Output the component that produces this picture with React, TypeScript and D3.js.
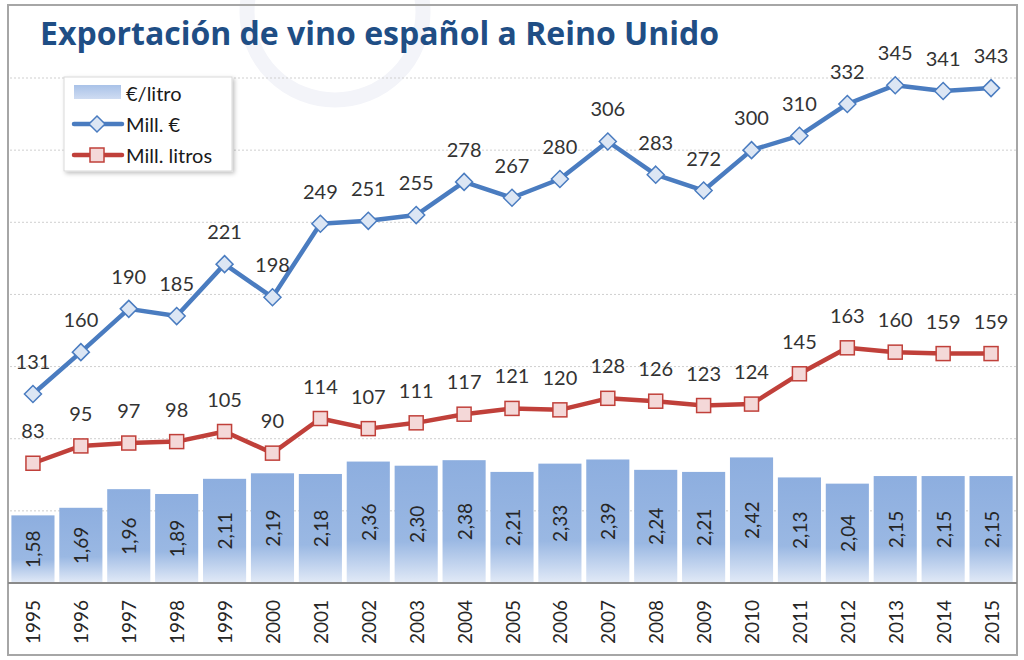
import React from "react";
import * as d3 from "d3";

const years = ["1995","1996","1997","1998","1999","2000","2001","2002","2003","2004","2005","2006","2007","2008","2009","2010","2011","2012","2013","2014","2015"];
const millEuros = [131,160,190,185,221,198,249,251,255,278,267,280,306,283,272,300,310,332,345,341,343];
const millLitros = [83,95,97,98,105,90,114,107,111,117,121,120,128,126,123,124,145,163,160,159,159];
const euroLitro = [1.58,1.69,1.96,1.89,2.11,2.19,2.18,2.36,2.30,2.38,2.21,2.33,2.39,2.24,2.21,2.42,2.13,2.04,2.15,2.15,2.15];
const gridTicks = [50,100,150,200,250,300,350];

const W = 1024, H = 660;
const FONT = "Lato, 'Open Sans', sans-serif";
const BLUE = "#4a7cc0";
const RED = "#c0403a";

export default function App() {
  const x = d3.scaleBand<string>().domain(years).range([9, 1015]).paddingInner(0.1).paddingOuter(0.05);
  const y = d3.scaleLinear().domain([0, 350]).range([583, 78]);
  const yBar = d3.scaleLinear().domain([0.6, 0.6 + 505 / 69]).range([583, 78]);
  const cx = (i: number) => (x(years[i]) as number) + x.bandwidth() / 2;
  const line = d3.line<number>().x((_, i) => cx(i)).y((d) => y(d));

  return (
    <svg width={W} height={H} style={{ position: "absolute", left: 0, top: 0, background: "#fff" }} fontFamily={FONT}>
      <defs>
        <linearGradient id="barGrad" x1="0" y1="0" x2="0" y2="1">
          <stop offset="0%" stopColor="#8daedf" />
          <stop offset="65%" stopColor="#9ab8e3" />
          <stop offset="100%" stopColor="#e2eaf7" />
        </linearGradient>
        <linearGradient id="legGrad" x1="0" y1="0" x2="0" y2="1">
          <stop offset="0%" stopColor="#a9c2e8" />
          <stop offset="100%" stopColor="#cfdcf2" />
        </linearGradient>
        <filter id="shadow" x="-10%" y="-10%" width="130%" height="140%">
          <feDropShadow dx="2" dy="2" stdDeviation="2" floodColor="#000" floodOpacity="0.25" />
        </filter>
      </defs>
      <rect x={0} y={0} width={W} height={H} fill="#fff" />
      {/* watermark ring */}
      <circle cx={335} cy={12} r={88} fill="none" stroke="#f3f4f9" strokeWidth={15} />
      {/* frame */}
      <rect x={8} y={5} width={1009} height={650} fill="none" stroke="#a6a6a6" strokeWidth={2} />

      <text x={40} y={45} fontSize={32} fontWeight={700} fill="#1f4e85" fontFamily="'Open Sans', sans-serif">
        Exportación de vino español a Reino Unido
      </text>

      {/* grid */}
      {gridTicks.map((t) => (
        <line key={t} x1={10} x2={1016} y1={y(t)} y2={y(t)} stroke="#cfcfcf" strokeWidth={1} strokeDasharray="2,2" />
      ))}

      {/* bars */}
      {euroLitro.map((v, i) => (
        <g key={years[i]}>
          <rect x={x(years[i])} y={yBar(v)} width={x.bandwidth()} height={583 - yBar(v)} fill="url(#barGrad)" />
          <text
            transform={`translate(${cx(i)},${(yBar(v) + 583) / 2}) rotate(-90)`}
            textAnchor="middle"
            dominantBaseline="central"
            fontSize={19}
            fill="#262626"
          >
            {v.toFixed(2).replace(".", ",")}
          </text>
        </g>
      ))}

      {/* axis line */}
      <line x1={8} x2={1017} y1={583} y2={583} stroke="#8a8a8a" strokeWidth={2} />
      {years.map((yr, i) => (
        <text
          key={yr}
          transform={`translate(${cx(i)},600) rotate(-90)`}
          textAnchor="end"
          dominantBaseline="central"
          fontSize={19}
          fill="#262626"
        >
          {yr}
        </text>
      ))}

      {/* lines */}
      <path d={line(millLitros) as string} fill="none" stroke={RED} strokeWidth={4.5} strokeLinejoin="round" />
      <path d={line(millEuros) as string} fill="none" stroke={BLUE} strokeWidth={4.5} strokeLinejoin="round" />

      {millLitros.map((v, i) => (
        <g key={"l" + i}>
          <rect x={cx(i) - 7} y={y(v) - 7} width={14} height={14} fill="#f4d8d8" stroke={RED} strokeWidth={1.5} />
          <text x={cx(i)} y={y(v) - 33} textAnchor="middle" dominantBaseline="central" fontSize={20} fill="#333">{v}</text>
        </g>
      ))}
      {millEuros.map((v, i) => (
        <g key={"e" + i}>
          <path d={`M${cx(i)},${y(v) - 8.5}L${cx(i) + 8.5},${y(v)}L${cx(i)},${y(v) + 8.5}L${cx(i) - 8.5},${y(v)}Z`} fill="#dce6f4" stroke={BLUE} strokeWidth={1.5} />
          <text x={cx(i)} y={y(v) - 33} textAnchor="middle" dominantBaseline="central" fontSize={20} fill="#333">{v}</text>
        </g>
      ))}

      {/* legend */}
      <g>
        <rect x={64} y={77} width={168} height={94} fill="#fff" stroke="#d9d9d9" strokeWidth={1} filter="url(#shadow)" />
        <rect x={74} y={85} width={47} height={14} fill="url(#legGrad)" />
        <text x={126} y={93} dominantBaseline="central" fontSize={20} fill="#1a1a1a">€/litro</text>
        <line x1={74} x2={122} y1={124} y2={124} stroke={BLUE} strokeWidth={4.5} strokeLinecap="round" />
        <path d="M97,116L105,124L97,132L89,124Z" fill="#dce6f4" stroke={BLUE} strokeWidth={1.5} />
        <text x={126} y={124} dominantBaseline="central" fontSize={20} fill="#1a1a1a">Mill. €</text>
        <line x1={74} x2={122} y1={155} y2={155} stroke={RED} strokeWidth={4.5} strokeLinecap="round" />
        <rect x={90} y={148} width={14} height={14} fill="#f4d8d8" stroke={RED} strokeWidth={1.5} />
        <text x={126} y={155} dominantBaseline="central" fontSize={20} fill="#1a1a1a">Mill. litros</text>
      </g>
    </svg>
  );
}
